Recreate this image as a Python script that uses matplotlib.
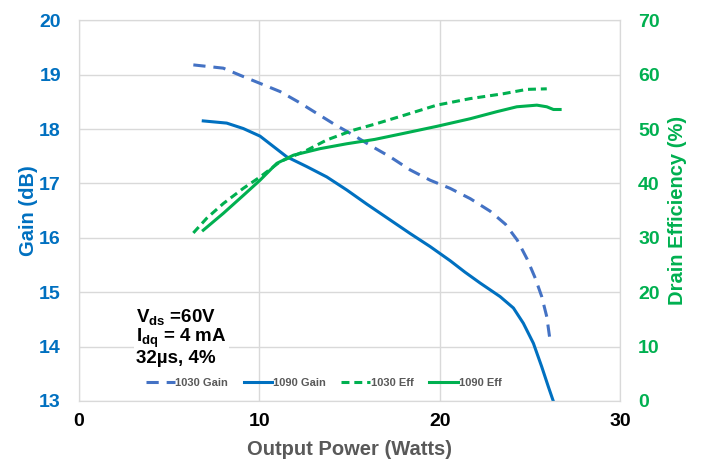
import matplotlib.pyplot as plt

plt.rcParams['font.family'] = ['Liberation Sans', 'DejaVu Sans']
plt.rcParams['mathtext.default'] = 'regular'

# 1030 MHz gain (dB) vs output power (W)
p_gain_1030 = [6.34, 8.0, 8.93, 10.04, 11.15, 12.16, 13.18, 14.2, 15.21, 16.2, 17.25, 18.36,
               19.47, 20.58, 21.7, 22.8, 23.65, 24.3, 24.85, 25.3, 25.66, 25.94, 26.12]
gain_1030 = [19.18, 19.12, 18.99, 18.84, 18.69, 18.5, 18.29, 18.08, 17.89, 17.69, 17.49, 17.25,
             17.06, 16.91, 16.72, 16.49, 16.25, 15.96, 15.61, 15.26, 14.92, 14.55, 14.12]

# 1090 MHz gain
p_gain_1090 = [6.89, 8.19, 9.11, 10.04, 10.78, 11.52, 12.63, 13.74, 14.85, 15.96, 17.25, 18.36,
               19.47, 20.58, 21.4, 22.24, 23.35, 24.09, 24.64, 25.2, 25.66, 26.03, 26.31]
gain_1090 = [18.15, 18.11, 18.01, 17.87, 17.68, 17.49, 17.31, 17.12, 16.88, 16.62, 16.33, 16.08,
             15.84, 15.58, 15.37, 15.17, 14.92, 14.71, 14.43, 14.06, 13.63, 13.26, 12.99]

# 1030 MHz drain efficiency (%)
p_eff_1030 = [6.34, 7.08, 8.0, 9.11, 10.04, 11.15, 12.63, 13.74, 15.21, 16.4, 17.99, 19.84,
              21.69, 23.53, 24.83, 25.94]
eff_1030 = [30.9, 33.6, 36.3, 39.1, 41.2, 44.0, 46.1, 48.0, 49.8, 50.9, 52.5, 54.4,
            55.6, 56.5, 57.3, 57.4]

# 1090 MHz drain efficiency
p_eff_1090 = [6.89, 8.0, 9.11, 10.04, 10.97, 11.89, 13.37, 14.85, 16.4, 17.99, 19.84, 21.69,
              23.17, 24.28, 25.39, 25.94, 26.31, 26.68]
eff_1090 = [31.4, 34.5, 37.8, 40.6, 43.7, 45.2, 46.4, 47.3, 48.1, 49.2, 50.5, 51.9,
            53.2, 54.1, 54.4, 54.1, 53.6, 53.6]

x_ticks = [0, 10, 20, 30]
gain_ticks = [13, 14, 15, 16, 17, 18, 19, 20]
eff_ticks = [0, 10, 20, 30, 40, 50, 60, 70]

blue = '#0070C0'
blue_dash = '#4472C4'
green = '#00B050'
gray = '#595959'
grid_c = '#D9D9D9'

fig = plt.figure(figsize=(7.03, 4.68), dpi=100)
ax = fig.add_axes([0.1124, 0.1432, 0.7695, 0.8134])
ax2 = ax.twinx()

l1, = ax.plot(p_gain_1030, gain_1030, color=blue_dash, lw=2.2, dashes=(4, 2.6), label='1030 Gain')
l2, = ax.plot(p_gain_1090, gain_1090, color=blue, lw=2.2, label='1090 Gain')
l3, = ax2.plot(p_eff_1030, eff_1030, color=green, lw=2.2, dashes=(2.6, 1.6), label='1030 Eff')
l4, = ax2.plot(p_eff_1090, eff_1090, color=green, lw=2.2, label='1090 Eff')

ax.set_xlim(0, 30)
ax.set_ylim(13, 20)
ax2.set_ylim(0, 70)
ax.set_xticks(x_ticks)
ax.set_yticks(gain_ticks)
ax2.set_yticks(eff_ticks)
ax.grid(True, color=grid_c, lw=1)
ax.set_axisbelow(True)

for a in (ax, ax2):
    for s in a.spines.values():
        s.set_color(grid_c)
    a.tick_params(length=0)

ax.tick_params(axis='y', pad=13, labelsize=14, labelcolor=blue)
ax.tick_params(axis='x', pad=9, labelsize=14, labelcolor='black')
ax2.tick_params(axis='y', pad=13, labelsize=14, labelcolor=green)
for lab in ax.get_xticklabels() + ax.get_yticklabels() + ax2.get_yticklabels():
    lab.set_fontweight('bold')

ax.set_ylabel('Gain (dB)', color=blue, fontsize=14.5, fontweight='bold', labelpad=1)
ax2.set_ylabel('Drain Efficiency (%)', color=green, fontsize=14.5, fontweight='bold', labelpad=6)
ax.set_xlabel('Output Power (Watts)', color=gray, fontsize=14.5, fontweight='bold', labelpad=7)

# operating conditions box
note_lines = ['V$_{ds}$ =60V', 'I$_{dq}$ = 4 mA', '32\u00b5s, 4%']
note_y = [0.207, 0.155, 0.100]
for txt, yy in zip(note_lines, note_y):
    ax.text(0.106, yy, txt, transform=ax.transAxes, fontsize=13.5, fontweight='bold',
            va='baseline', ha='left',
            bbox=dict(facecolor='white', edgecolor='none', pad=1.5))

leg = ax.legend(handles=[l1, l2, l3, l4], loc='center', bbox_to_anchor=(0.452, 0.047), ncol=4,
                frameon=False, fontsize=8, handlelength=2.6, handletextpad=0.05, columnspacing=1.4)
for t in leg.get_texts():
    t.set_color(gray)
    t.set_fontweight('bold')

fig.savefig('out.png', dpi=100)
